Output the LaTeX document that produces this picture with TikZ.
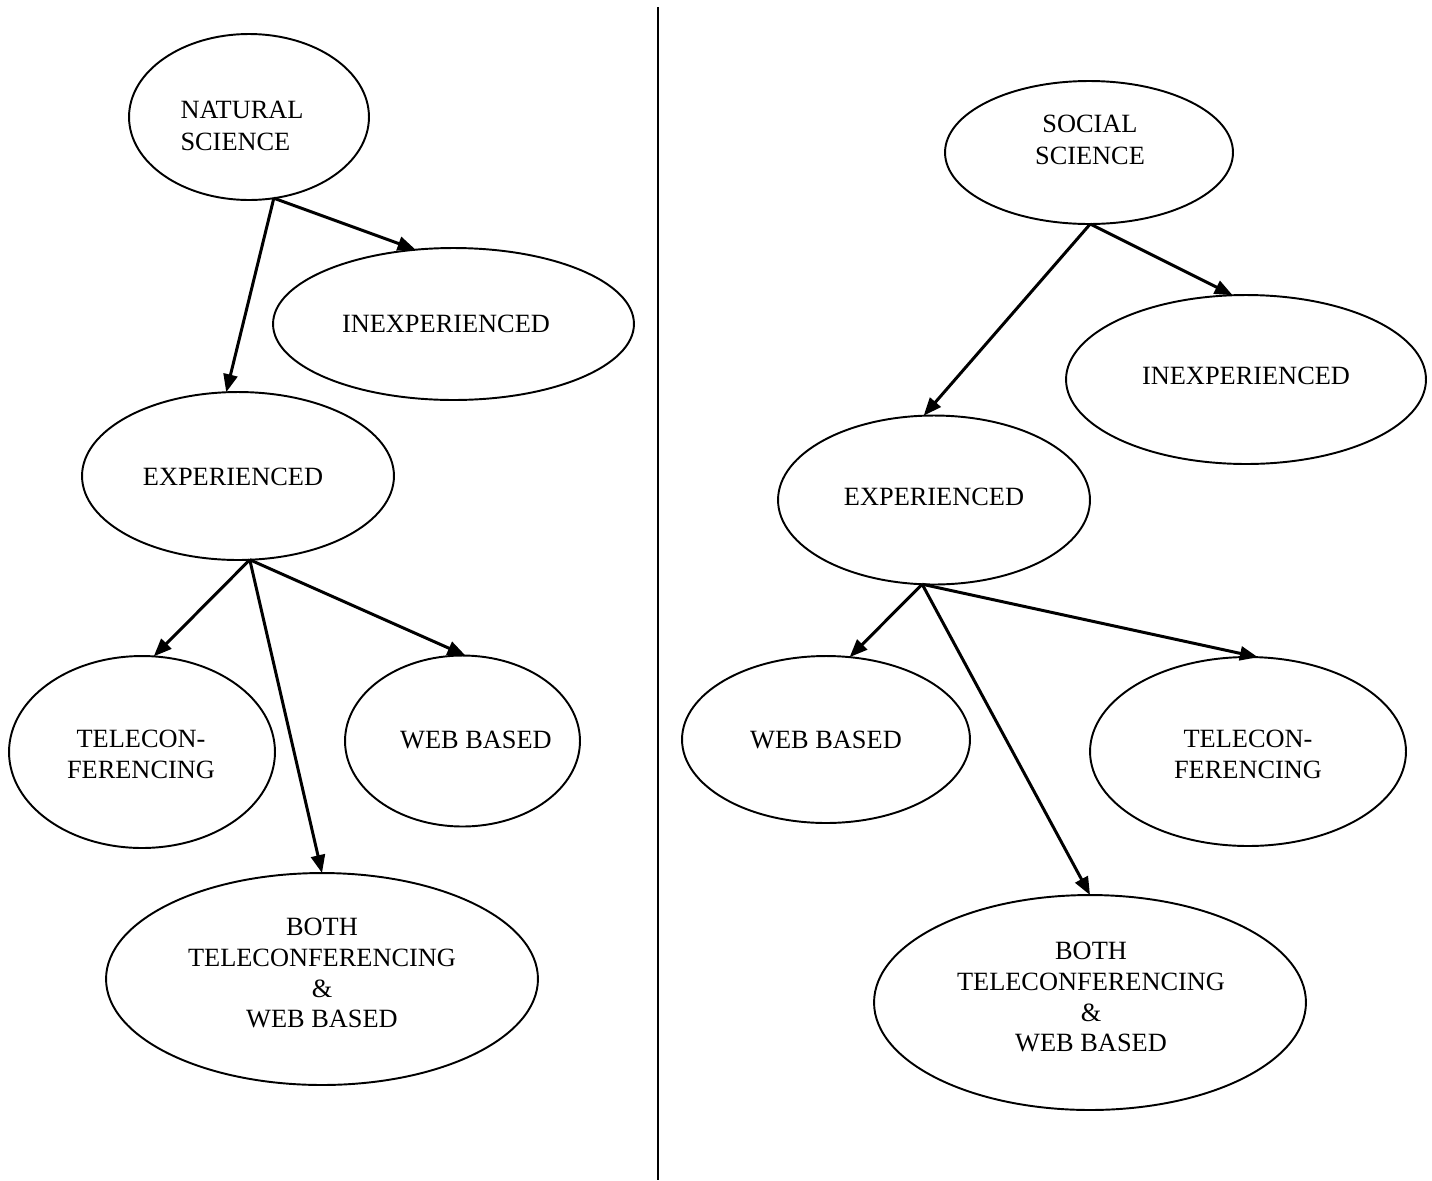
\documentclass[tikz,border=0pt]{standalone}
\usepackage{fontspec}
\setmainfont{Liberation Serif}
\usetikzlibrary{shapes.geometric,arrows.meta}
\tikzset{
  ell/.style={draw, ellipse, line width=1.1pt, inner sep=0pt, outer sep=0pt},
  txt/.style={font=\fontsize{15}{17.6}\selectfont, align=center, inner sep=0pt, outer sep=0pt},
  txtb/.style={txt, font=\fontsize{15}{18.1}\selectfont},
  arr/.style={line width=1.7pt, -{Triangle[length=0.36cm,width=0.28cm]}},
  divider/.style={line width=1.2pt}
}
\begin{document}
\begin{tikzpicture}[x=0.02cm,y=-0.02cm]
\useasboundingbox (0,0) rectangle (1432,1180);
% divider
\coordinate (dtop) at (658,7);
\coordinate (dbot) at (658,1180);
\draw[divider] (dtop) -- (dbot);
% left tree
\node[ell, minimum width=4.80cm, minimum height=3.32cm,
  label={[txtb, align=left, xshift=-0.14cm, yshift=-0.18cm]center:NATURAL\\SCIENCE}] (ns) at (249,117) {};
\node[ell, minimum width=7.22cm, minimum height=3.04cm,
  label={[txt, xshift=-0.15cm]center:INEXPERIENCED}] (inl) at (453.5,324) {};
\node[ell, minimum width=6.24cm, minimum height=3.36cm,
  label={[txt, xshift=-0.10cm, yshift=-0.02cm]center:EXPERIENCED}] (exl) at (238,476) {};
\node[ell, minimum width=5.32cm, minimum height=3.84cm,
  label={[txt, xshift=-0.02cm, yshift=-0.04cm]center:TELECON-\\FERENCING}] (tcl) at (142,752) {};
\node[ell, minimum width=4.70cm, minimum height=3.42cm,
  label={[txt, xshift=0.27cm, yshift=0.02cm]center:WEB BASED}] (wbl) at (462.5,741) {};
\node[ell, minimum width=8.64cm, minimum height=4.24cm,
  label={[txt, yshift=0.12cm]center:BOTH\\TELECONFERENCING\\\&\\WEB BASED}] (bol) at (322,979) {};
% right tree
\node[ell, minimum width=5.76cm, minimum height=2.86cm,
  label={[txtb, xshift=0.02cm, yshift=0.25cm]center:SOCIAL\\SCIENCE}] (ss) at (1089,152.5) {};
\node[ell, minimum width=7.20cm, minimum height=3.38cm,
  label={[txt, yshift=0.07cm]center:INEXPERIENCED}] (inr) at (1246,379.5) {};
\node[ell, minimum width=6.24cm, minimum height=3.38cm,
  label={[txt, yshift=0.06cm]center:EXPERIENCED}] (exr) at (934,500) {};
\node[ell, minimum width=5.76cm, minimum height=3.34cm,
  label={[txt]center:WEB BASED}] (wbr) at (826,739.5) {};
\node[ell, minimum width=6.32cm, minimum height=3.78cm,
  label={[txt, yshift=-0.05cm]center:TELECON-\\FERENCING}] (tcr) at (1248,751.5) {};
\node[ell, minimum width=8.64cm, minimum height=4.30cm,
  label={[txt, xshift=0.02cm, yshift=0.11cm]center:BOTH\\TELECONFERENCING\\\&\\WEB BASED}] (bor) at (1090,1002.5) {};
% connectors left
\draw[arr] (ns.-73) -- (inl.117);
\draw[arr] (ns.-73) -- (exl.98);
\draw[arr] (exl.-82) -- (tcl.83.5);
\draw[arr] (exl.-82) -- (bol.90);
\draw[arr] (exl.-82) -- (wbl.88);
% connectors right
\draw[arr] (ss.-89) -- (inr.99.4);
\draw[arr] (ss.-89) -- (exr.97);
\draw[arr] (exr.-98) -- (wbr.74);
\draw[arr] (exr.-98) -- (bor.90);
\draw[arr] (exr.-98) -- (tcr.84.6);
\end{tikzpicture}
\end{document}
